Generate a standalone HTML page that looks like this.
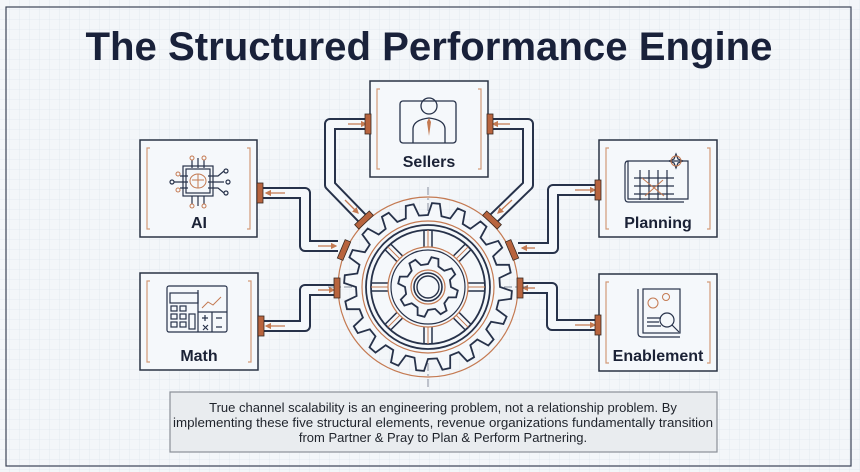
<!DOCTYPE html>
<html><head><meta charset="utf-8"><style>
html,body{margin:0;padding:0;width:860px;height:472px;overflow:hidden;background:#f3f6f9;}
svg{display:block;font-family:"Liberation Sans",sans-serif;}
.lbl{font-weight:bold;font-size:16px;fill:#1b2236;text-anchor:middle;}
</style></head><body>
<svg width="860" height="472" viewBox="0 0 860 472" xmlns="http://www.w3.org/2000/svg">
<defs>
<pattern id="g" width="10" height="10" patternUnits="userSpaceOnUse"><path d="M10 0V10H0" fill="none" stroke="#dfe6ee" stroke-width="0.8"/></pattern>
<marker id="ah" viewBox="0 0 10 10" refX="8" refY="5" markerWidth="5" markerHeight="5" orient="auto"><path d="M0 0L10 5L0 10z" fill="#c47a52"/></marker>
</defs>
<rect width="860" height="472" fill="#f3f6f9"/>
<rect width="860" height="472" fill="url(#g)"/>
<rect x="6" y="7" width="845" height="459" fill="none" stroke="#3b4456" stroke-width="1.2"/>
<text x="429" y="60" text-anchor="middle" font-size="40" font-weight="bold" fill="#19213a" textLength="687" lengthAdjust="spacingAndGlyphs">The Structured Performance Engine</text>

<!-- pipes -->
<g fill="none" stroke-linejoin="round">
<g stroke="#27324a" stroke-width="12">
<path id="p1" d="M262 193H305V246H338"/>
<path d="M262 326H305V290H336"/>
<path d="M366 124H330V185L362 218"/>
<path d="M490 124H528V185L494 218"/>
<path d="M598 190H553V248H518"/>
<path d="M598 325H552V288H520"/>
</g>
<g stroke="#f5f8fb" stroke-width="8">
<path d="M262 193H305V246H338"/>
<path d="M262 326H305V290H336"/>
<path d="M366 124H330V185L362 218"/>
<path d="M490 124H528V185L494 218"/>
<path d="M598 190H553V248H518"/>
<path d="M598 325H552V288H520"/>
</g>
<g stroke="#c47a52" stroke-width="1.3" marker-end="url(#ah)">
<path d="M285 193H266"/><path d="M318 246H336"/>
<path d="M285 326H266"/><path d="M318 290H334"/>
<path d="M348 124H366"/><path d="M345 200L358 213"/>
<path d="M510 124H493"/><path d="M512 200L498 213"/>
<path d="M575 190H595"/><path d="M535 248H522"/>
<path d="M575 325H595"/><path d="M535 288H523"/>
</g>
</g>

<!-- boxes -->
<g fill="#f5f8fb" stroke="#2a3344" stroke-width="1.5">
<rect x="140" y="140" width="117" height="97"/>
<rect x="370" y="81" width="118" height="96"/>
<rect x="599" y="140" width="118" height="97"/>
<rect x="140" y="273" width="118" height="97"/>
<rect x="599" y="274" width="118" height="97"/>
</g>
<g fill="none" stroke="#d39a78" stroke-width="1.2">
<path d="M150 148h-3v81h3M247 148h3v81h-3"/>
<path d="M380 89h-3v80h3M478 89h3v80h-3"/>
<path d="M609 148h-3v81h3M707 148h3v81h-3"/>
<path d="M150 281h-3v81h3M248 281h3v81h-3"/>
<path d="M609 282h-3v81h3M707 282h3v81h-3"/>
</g>
<!-- connectors on boxes -->
<g fill="#b8643e" stroke="#3a2a22" stroke-width="0.8">
<rect x="257" y="183" width="6" height="20"/>
<rect x="258" y="316" width="6" height="20"/>
<rect x="365" y="114" width="6" height="20"/>
<rect x="487" y="114" width="6" height="20"/>
<rect x="595" y="180" width="6" height="20"/>
<rect x="595" y="315" width="6" height="20"/>
</g>
<text class="lbl" x="199" y="228">AI</text>
<text class="lbl" x="429" y="167">Sellers</text>
<text class="lbl" x="658" y="228">Planning</text>
<text class="lbl" x="199" y="361">Math</text>
<text class="lbl" x="658" y="361">Enablement</text>

<!-- AI icon -->
<g fill="none" stroke="#27324a" stroke-width="1.2">
<rect x="183" y="166" width="30" height="30"/><rect x="186" y="169" width="24" height="24"/>
<path d="M188 176h-8M188 182h-14M188 188h-8M208 176h10l6-5M208 182h16M208 188h10l6 5M192 168v-8M198 168v-10M204 168v-8M192 196v8M198 196v10M204 196v8"/>
<circle cx="226" cy="171" r="2"/><circle cx="228" cy="182" r="2"/><circle cx="226" cy="193" r="2"/><circle cx="172" cy="182" r="2"/>
</g>
<g fill="none" stroke="#c47a52" stroke-width="1"><ellipse cx="198" cy="181" rx="8" ry="7"/><path d="M198 174v14M192 180h12"/>
<circle cx="192" cy="158" r="2"/><circle cx="204" cy="158" r="2"/><circle cx="178" cy="174" r="2"/><circle cx="178" cy="190" r="2"/><circle cx="192" cy="206" r="2"/><circle cx="204" cy="206" r="2"/></g>

<!-- Sellers icon -->
<g fill="none" stroke="#27324a" stroke-width="1.3">
<rect x="400" y="101" width="56" height="42" rx="3"/>
<circle cx="429" cy="106" r="8"/>
<path d="M413 143v-14q0-9 16-11q16 2 16 11v14"/>
</g>
<path d="M429 118l-2 4 2 14 2-14z" fill="#c47a52"/>

<!-- Planning icon -->
<g fill="none" stroke="#27324a" stroke-width="1.2">
<path d="M628 161h60v38h-60zM628 161q-3 0-3 4v33q0 4 3 4h56"/>
<path d="M640 170v30M649 170v30M658 170v30M667 170v30M634 178h40M634 186h40M634 194h40"/>
<path d="M676 154l2 5 5 2-5 2-2 5-2-5-5-2 5-2z"/>
</g>
<g stroke="#c47a52" stroke-width="1" fill="none"><circle cx="676" cy="161" r="5"/><path d="M642 178l22 18M645 196l18-16"/></g>

<!-- Math icon -->
<g fill="none" stroke="#27324a" stroke-width="1.2">
<rect x="167" y="286" width="60" height="46" rx="2"/>
<rect x="170" y="293" width="28" height="10"/>
<path d="M198 290v42M198 312h29M212 312v20"/>
<rect x="171" y="306" width="6" height="5"/><rect x="180" y="306" width="6" height="5"/><rect x="171" y="314" width="6" height="5"/><rect x="180" y="314" width="6" height="5"/><rect x="189" y="314" width="6" height="15"/><rect x="171" y="322" width="6" height="5"/><rect x="180" y="322" width="6" height="5"/>
<path d="M202 318h6M205 315v6M216 318h6M203 325l5 5M208 325l-5 5M216 327h6"/>
</g>
<path d="M202 308l6-6 5 3 8-8" fill="none" stroke="#c47a52" stroke-width="1"/>

<!-- Enablement icon -->
<g fill="none" stroke="#27324a" stroke-width="1.2">
<rect x="643" y="289" width="37" height="44"/>
<path d="M638 289v44q0 4 4 4h38"/>
<path d="M647 318h14M647 322h12M647 326h14"/>
<circle cx="667" cy="320" r="7"/><path d="M672 325l7 7"/>
</g>
<g fill="none" stroke="#c47a52" stroke-width="1"><circle cx="653" cy="303" r="5"/><circle cx="666" cy="297" r="3.5"/></g>

<!-- gear -->
<g id="gear" fill="none" stroke-width="1.5"></g>

<!-- gear connectors -->
<g fill="#b8643e" stroke="#3a2a22" stroke-width="0.8">
<rect x="-3" y="-10" width="6" height="20" transform="translate(337 288)"/>
<rect x="-3" y="-10" width="6" height="20" transform="translate(344 250) rotate(23)"/>
<rect x="-3" y="-10" width="6" height="20" transform="translate(364 220) rotate(47)"/>
<rect x="-3" y="-10" width="6" height="20" transform="translate(492 220) rotate(-47)"/>
<rect x="-3" y="-10" width="6" height="20" transform="translate(512 250) rotate(-23)"/>
<rect x="-3" y="-10" width="6" height="20" transform="translate(520 288)"/>
</g>

<!-- text box -->
<rect x="170" y="392" width="547" height="60" fill="#e9ecef" stroke="#8a9098" stroke-width="1.2"/>
<g font-size="13" fill="#1f232b" text-anchor="middle">
<text x="443" y="412">True channel scalability is an engineering problem, not a relationship problem. By</text>
<text x="443" y="427" textLength="540" lengthAdjust="spacingAndGlyphs">implementing these five structural elements, revenue organizations fundamentally transition</text>
<text x="443" y="442">from Partner &amp; Pray to Plan &amp; Perform Partnering.</text>
</g>
</svg>
<script>
(function(){
var cx=428,cy=287,g=document.getElementById('gear'),ns='http://www.w3.org/2000/svg';
function el(t,a){var e=document.createElementNS(ns,t);for(var k in a)e.setAttribute(k,a[k]);g.appendChild(e);return e;}
function gear(n,ro,ri){var d='',s=2*Math.PI/n;for(var i=0;i<n;i++){var a=i*s-Math.PI/2;
var pts=[[ri,a],[ro,a+s*0.15],[ro,a+s*0.45],[ri,a+s*0.6]];
pts.forEach(function(p,j){var x=cx+p[0]*Math.cos(p[1]),y=cy+p[0]*Math.sin(p[1]);d+=(i==0&&j==0?'M':'L')+x.toFixed(1)+' '+y.toFixed(1);});}
return d+'Z';}
el('line',{x1:cx,y1:cy-100,x2:cx,y2:cy+100,stroke:'#5a6478','stroke-width':0.7,'stroke-dasharray':'8 3 2 3'});
el('line',{x1:cx-100,y1:cy,x2:cx+100,y2:cy,stroke:'#5a6478','stroke-width':0.7,'stroke-dasharray':'8 3 2 3'});
el('circle',{cx:cx,cy:cy,r:90,stroke:'#c47a52','stroke-width':1.2});
el('path',{d:gear(20,84,72),stroke:'#27324a',fill:'#f5f8fb','stroke-width':1.8});
el('circle',{cx:cx,cy:cy,r:66,stroke:'#c47a52','stroke-width':1.2});
el('circle',{cx:cx,cy:cy,r:62,stroke:'#27324a','stroke-width':1.8});
el('circle',{cx:cx,cy:cy,r:57,stroke:'#27324a','stroke-width':1.8});
for(var i=0;i<8;i++){var a=i*Math.PI/4,c=Math.cos(a),s=Math.sin(a),px=-s*4,py=c*4;
[-1,1].forEach(function(k){el('line',{x1:cx+38*c+k*px,y1:cy+38*s+k*py,x2:cx+57*c+k*px,y2:cy+57*s+k*py,stroke:'#27324a','stroke-width':1.5});});
el('line',{x1:cx+38*c,y1:cy+38*s,x2:cx+57*c,y2:cy+57*s,stroke:'#c47a52','stroke-width':1});}
el('circle',{cx:cx,cy:cy,r:40,stroke:'#c47a52','stroke-width':1.2,fill:'#f5f8fb'});
el('circle',{cx:cx,cy:cy,r:37,stroke:'#27324a','stroke-width':1.2});
el('path',{d:gear(8,30,23),stroke:'#27324a',fill:'#f5f8fb','stroke-width':1.8});
el('circle',{cx:cx,cy:cy,r:17,stroke:'#c47a52','stroke-width':1.2});
el('circle',{cx:cx,cy:cy,r:14,stroke:'#27324a','stroke-width':1.6});
el('circle',{cx:cx,cy:cy,r:11,stroke:'#27324a','stroke-width':1.4});
})();
</script>
</body></html>
